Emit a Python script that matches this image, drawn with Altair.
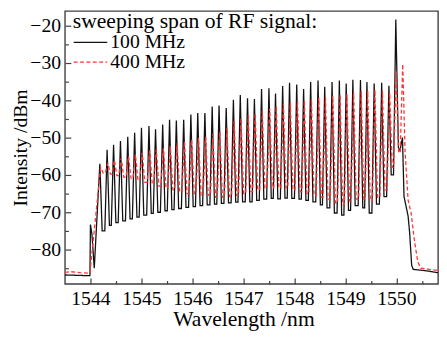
import altair as alt
import pandas as pd

# ---------------- data ----------------
# comb-line peak wavelengths (nm) of the 100 MHz trace (last one = the strong line)
peak_wl = [1544.185, 1544.327, 1544.454, 1544.589, 1544.732, 1544.867, 1545.001,
           1545.148, 1545.277, 1545.417, 1545.552, 1545.685, 1545.829, 1545.970,
           1546.105, 1546.245, 1546.388, 1546.523, 1546.663, 1546.804, 1546.939,
           1547.081, 1547.216, 1547.356, 1547.501, 1547.630, 1547.770, 1547.905,
           1548.046, 1548.181, 1548.319, 1548.464, 1548.595, 1548.739, 1548.882,
           1549.016, 1549.147, 1549.296, 1549.423, 1549.565, 1549.712, 1549.854,
           1549.989]
# 100 MHz: peak levels (dBm) and the level of the flat trough after each peak
black_peak_db = [-57.0, -53.3, -51.9, -50.9, -49.8, -48.7, -47.4, -46.9, -47.8, -46.5,
                 -45.2, -45.4, -45.2, -43.8, -43.4, -43.4, -41.7, -41.4, -42.1, -39.9,
                 -38.6, -39.5, -39.7, -37.0, -36.8, -38.2, -36.2, -35.3, -35.8, -37.0,
                 -35.1, -34.7, -36.4, -35.1, -34.7, -35.5, -34.5, -34.6, -35.1, -35.5,
                 -35.3, -36.1, -18.4]
black_trough_db = [-75.0, -73.5, -72.8, -72.3, -71.8, -71.3, -70.8, -70.3, -70.0, -69.6,
                   -69.3, -69.0, -68.7, -68.5, -68.2, -68.0, -67.8, -67.6, -67.5, -67.3,
                   -67.2, -67.2, -66.8, -66.5, -66.3, -66.4, -66.2, -66.3, -66.5, -66.8,
                   -67.2, -68.0, -68.8, -70.2, -70.8, -69.5, -68.2, -68.8, -70.2, -67.8,
                   -65.8, -60.0]
black_lead_wl = [1543.5, 1543.75, 1543.99, 1544.0, 1544.03, 1544.075]
black_lead_db = [-86.8, -86.9, -87.0, -73.3, -76.0, -85.0]
black_tail_wl = [1550.04, 1550.07, 1550.12, 1550.15, 1550.23, 1550.26, 1550.30, 1550.33,
                 1550.6, 1550.817]
black_tail_db = [-52.7, -53.5, -50.0, -65.8, -71.0, -75.4, -84.2, -85.3, -85.7, -86.2]

# 400 MHz: lines sit slightly to the red side of the 100 MHz lines
red_shift_nm = 0.015
red_extra_peak_wl = [1549.995, 1550.125]
red_peak_db = [-58.0, -56.8, -56.0, -55.5, -55.0, -54.5, -54.0, -53.5, -53.2, -52.8,
               -52.3, -51.5, -51.0, -50.5, -50.0, -49.8, -49.0, -48.3, -47.3, -45.5,
               -44.8, -44.0, -43.5, -42.8, -42.2, -41.6, -41.0, -40.6, -40.2, -40.0,
               -39.6, -39.3, -39.2, -38.8, -38.5, -38.4, -38.0, -37.6, -37.5, -37.2,
               -37.5, -38.0, -32.0, -30.3]
red_trough_db = [-59.5, -59.8, -60.2, -60.6, -61.0, -61.5, -62.0, -62.5, -63.0, -63.5,
                 -64.0, -64.5, -65.0, -65.0, -65.5, -65.5, -66.0, -66.0, -65.8, -65.5,
                 -65.0, -64.5, -64.0, -63.5, -63.5, -63.5, -63.5, -64.0, -64.5, -65.0,
                 -65.5, -66.0, -66.5, -67.5, -68.0, -67.0, -66.5, -66.5, -67.0, -66.0,
                 -64.0, -58.0, -54.0]
red_lead_wl = [1543.5, 1543.6, 1543.8, 1543.99]
red_lead_db = [-86.1, -85.9, -86.2, -86.3]
red_tail_wl = [1550.17, 1550.23, 1550.29, 1550.35, 1550.42, 1550.48, 1550.65, 1550.817]
red_tail_db = [-53.5, -66.7, -70.2, -77.2, -83.3, -85.0, -85.3, -85.6]

# half-width of a comb line at its base (nm)
black_half_base = 0.045
red_half_base = 0.05

series = ["100 MHz", "400 MHz"]
x_major = [1544, 1545, 1546, 1547, 1548, 1549, 1550]
x_minor = [1544.5, 1545.5, 1546.5, 1547.5, 1548.5, 1549.5, 1550.5]
y_major = [-80, -70, -60, -50, -40, -30, -20]
y_minor = [-85, -75, -65, -55, -45, -35, -25]


def trace(name, lead_wl, lead_db, pk_wl, pk_db, tr_db, half, tail_wl, tail_db):
    wl, db = list(lead_wl), list(lead_db)
    for i in range(len(pk_wl)):
        wl.append(pk_wl[i]); db.append(pk_db[i])
        if i < len(tr_db):
            wl += [pk_wl[i] + half, pk_wl[i + 1] - half]
            db += [tr_db[i], tr_db[i]]
    wl += tail_wl; db += tail_db
    return pd.DataFrame({"wl": wl, "db": db, "series": name})


red_peak_wl = [w + red_shift_nm for w in peak_wl[:42]] + red_extra_peak_wl
df = pd.concat([
    trace(series[0], black_lead_wl, black_lead_db, peak_wl, black_peak_db,
          black_trough_db, black_half_base, black_tail_wl, black_tail_db),
    trace(series[1], red_lead_wl, red_lead_db, red_peak_wl, red_peak_db,
          red_trough_db, red_half_base, red_tail_wl, red_tail_db),
], ignore_index=True)

# ---------------- chart ----------------
W, H = 380, 278
FRAME = "#404040"
FONT = "Liberation Serif, DejaVu Serif, serif"
x_scale = alt.Scale(domain=[1543.5, 1550.817], nice=False, zero=False)
y_scale = alt.Scale(domain=[-89.2, -16.1], nice=False, zero=False)
legend_title = "sweeping span of RF signal:"

lines = alt.Chart(df).mark_line(strokeWidth=1.3, clip=True).encode(
    x=alt.X("wl:Q", scale=x_scale,
            axis=alt.Axis(orient="bottom", values=x_major, format="d", ticks=False,
                          tickSize=0, domain=False, grid=False, labelPadding=5,
                          title="Wavelength /nm", titleX=181.8, titleY=42.3,
                          titleBaseline="alphabetic")),
    y=alt.Y("db:Q", scale=y_scale,
            axis=alt.Axis(orient="left", values=y_major, format="d", ticks=False,
                          tickSize=0, domain=False, grid=False, labelPadding=4.5,
                          title="Intensity /dBm", titleX=-35.5, titleFontSize=20)),
    color=alt.Color("series:N", title=legend_title,
                    scale=alt.Scale(domain=series, range=["#111111", "#ff3535"])),
    strokeDash=alt.StrokeDash("series:N", title=legend_title,
                              scale=alt.Scale(domain=series, range=[[1, 0], [4, 2.5]])),
)


def tick_layer(xv, yv, size):
    return alt.Chart(df).mark_line(strokeOpacity=0).encode(
        x=alt.X("wl:Q", scale=x_scale,
                axis=alt.Axis(orient="top", offset=-H, values=xv, labels=False,
                              domain=False, grid=False, ticks=True, tickSize=size,
                              title=None)),
        y=alt.Y("db:Q", scale=y_scale,
                axis=alt.Axis(orient="right", offset=-W, values=yv, labels=False,
                              domain=False, grid=False, ticks=True, tickSize=size,
                              title=None)),
    )


chart = alt.layer(lines, tick_layer(x_major, y_major, 6), tick_layer(x_minor, y_minor, 3.5)
).resolve_axis(x="independent", y="independent").properties(
    width=W, height=H,
    autosize=alt.AutoSizeParams(type="none"),
    padding={"left": 58, "top": 0, "right": 1, "bottom": 51},
).configure_view(stroke=FRAME, strokeWidth=1.4).configure_axis(
    labelFont=FONT, labelFontSize=20, labelColor="black",
    titleFont=FONT, titleFontSize=22, titleFontWeight="normal",
    titleColor="black", tickColor=FRAME, tickWidth=1.2,
).configure_legend(
    orient="none", legendX=8, legendY=0, padding=0,
    titleFont=FONT, titleFontSize=22, titleFontWeight="normal",
    titleColor="black", titleLimit=400, titlePadding=0, titleAnchor="start",
    labelFont=FONT, labelFontSize=20, labelColor="black",
    labelOffset=2.2, labelLimit=200, symbolType="stroke", symbolSize=1170,
    symbolStrokeWidth=1.3, rowPadding=0, clipHeight=20,
)

chart.save("out.html", embed_options={"renderer": "svg", "actions": False})
